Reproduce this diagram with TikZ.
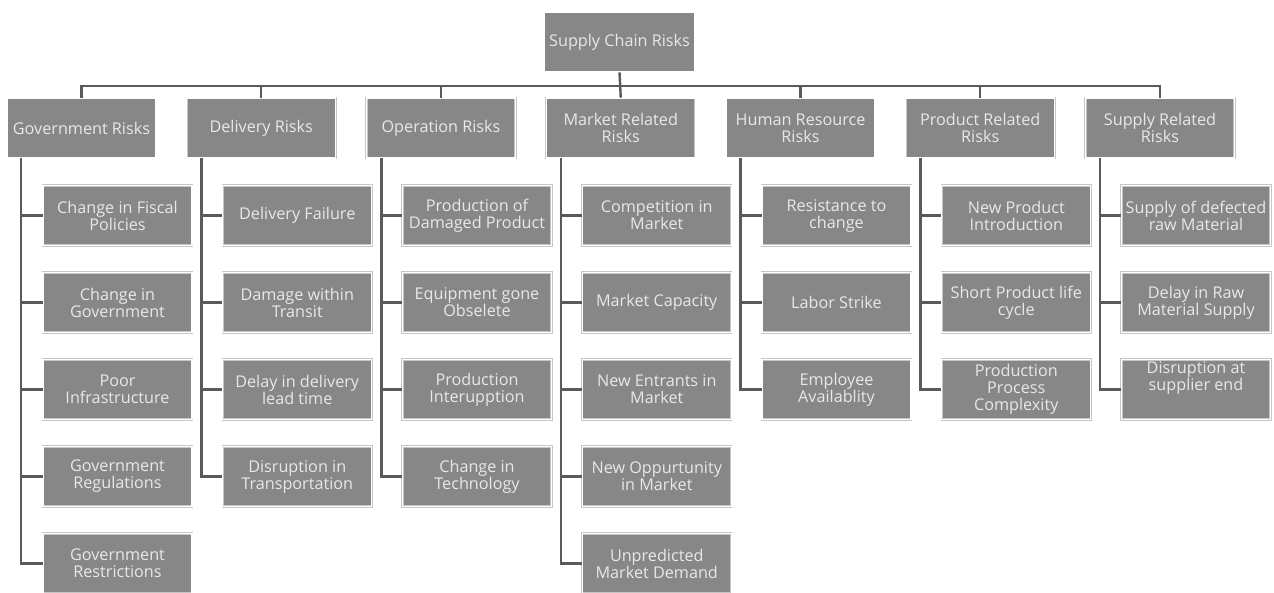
\documentclass[tikz,border=0pt]{standalone}
\usepackage{fontspec}
\setmainfont{Open Sans}
\definecolor{boxfill}{HTML}{878787}
\definecolor{boxtext}{HTML}{E8E8E8}
\definecolor{linkgray}{HTML}{5A5A5A}
\begin{document}
\begin{tikzpicture}[x=1pt,y=-1pt,
  riskbox/.style={fill=boxfill, draw=gray!45, line width=0.6pt, double=white,
    double distance=1.1pt, text=boxtext, minimum width=149pt, minimum height=60pt,
    align=center, inner sep=1pt, font=\fontsize{16.2}{17}\selectfont},
  link/.style={draw=linkgray, line width=2.4pt}]
\useasboundingbox (0,0) rectangle (1274,592);

% root
\node[riskbox, minimum width=151pt] (top) at (619.5,42) {Supply Chain Risks};

% categories
\node[riskbox] (c1) at (81.5,128)   {Government Risks};
\node[riskbox] (c2) at (261.25,128) {Delivery Risks};
\node[riskbox] (c3) at (441,128)    {Operation Risks};
\node[riskbox] (c4) at (620.75,128) {Market Related\\Risks};
\node[riskbox] (c5) at (800.5,128)  {Human Resource\\Risks};
\node[riskbox] (c6) at (980.25,128) {Product Related\\Risks};
\node[riskbox] (c7) at (1160,128)   {Supply Related\\Risks};

% government risks
\node[riskbox] (c1r1) at (117.5,215.5) {Change in Fiscal\\Policies};
\node[riskbox] (c1r2) at (117.5,302.5) {Change in\\Government};
\node[riskbox] (c1r3) at (117.5,389.5) {Poor\\Infrastructure};
\node[riskbox] (c1r4) at (117.5,476.5) {Government\\Regulations};
\node[riskbox] (c1r5) at (117.5,563.5) {Government\\Restrictions};

% delivery risks
\node[riskbox] (c2r1) at (297.25,215.5) {Delivery Failure};
\node[riskbox] (c2r2) at (297.25,302.5) {Damage within\\Transit};
\node[riskbox] (c2r3) at (297.25,389.5) {Delay in delivery\\lead time};
\node[riskbox] (c2r4) at (297.25,476.5) {Disruption in\\Transportation};

% operation risks
\node[riskbox] (c3r1) at (477,215.5) {Production of\\Damaged Product};
\node[riskbox] (c3r2) at (477,302.5) {Equipment gone\\Obselete};
\node[riskbox] (c3r3) at (477,389.5) {Production\\Interupption};
\node[riskbox] (c3r4) at (477,476.5) {Change in\\Technology};

% market related risks
\node[riskbox] (c4r1) at (656.75,215.5) {Competition in\\Market};
\node[riskbox] (c4r2) at (656.75,302.5) {Market Capacity};
\node[riskbox] (c4r3) at (656.75,389.5) {New Entrants in\\Market};
\node[riskbox] (c4r4) at (656.75,476.5) {New Oppurtunity\\in Market};
\node[riskbox] (c4r5) at (656.75,563.5) {Unpredicted\\Market Demand};

% human resource risks
\node[riskbox] (c5r1) at (836.5,215.5) {Resistance to\\change};
\node[riskbox] (c5r2) at (836.5,302.5) {Labor Strike};
\node[riskbox] (c5r3) at (836.5,389.5) {Employee\\Availablity};

% product related risks
\node[riskbox] (c6r1) at (1016.25,215.5) {New Product\\Introduction};
\node[riskbox] (c6r2) at (1016.25,302.5) {Short Product life\\cycle};
\node[riskbox] (c6r3) at (1016.25,389.5) {Production\\Process\\Complexity};

% supply related risks
\node[riskbox] (c7r1) at (1196,215.5) {Supply of defected\\raw Material};
\node[riskbox] (c7r2) at (1196,302.5) {Delay in Raw\\Material Supply};
\node[riskbox] (c7r3) at (1196,389.5) {Disruption at\\supplier end\\[4pt]\strut};

% bus from the root to the categories
\coordinate (bus) at (0,86);
\draw[link] (top.south) -- (c4.north);
\draw[link] (c1.north) -- (c1.north |- bus) -- (c7.north |- bus) -- (c7.north);
\foreach \c in {c2,c3,c5,c6}
  \draw[link] (\c.north) -- (\c.north |- bus);

% trunks down each column
\coordinate (t1) at (21,0);
\coordinate (t2) at (201.5,0);
\coordinate (t3) at (381.5,0);
\coordinate (t4) at (561,0);
\coordinate (t5) at (740.5,0);
\coordinate (t6) at (920.5,0);
\coordinate (t7) at (1100,0);

\draw[link] (t1 |- c1.south) |- (c1r5.west);
\foreach \r in {1,2,3,4} \draw[link] (t1 |- c1r\r.west) -- (c1r\r.west);
\draw[link] (t2 |- c2.south) |- (c2r4.west);
\foreach \r in {1,2,3} \draw[link] (t2 |- c2r\r.west) -- (c2r\r.west);
\draw[link] (t3 |- c3.south) |- (c3r4.west);
\foreach \r in {1,2,3} \draw[link] (t3 |- c3r\r.west) -- (c3r\r.west);
\draw[link] (t4 |- c4.south) |- (c4r5.west);
\foreach \r in {1,2,3,4} \draw[link] (t4 |- c4r\r.west) -- (c4r\r.west);
\draw[link] (t5 |- c5.south) |- (c5r3.west);
\foreach \r in {1,2} \draw[link] (t5 |- c5r\r.west) -- (c5r\r.west);
\draw[link] (t6 |- c6.south) |- (c6r3.west);
\foreach \r in {1,2} \draw[link] (t6 |- c6r\r.west) -- (c6r\r.west);
\draw[link] (t7 |- c7.south) |- (c7r3.west);
\foreach \r in {1,2} \draw[link] (t7 |- c7r\r.west) -- (c7r\r.west);
\end{tikzpicture}
\end{document}
